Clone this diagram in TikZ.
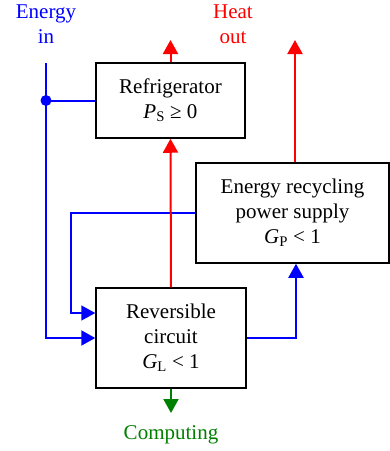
\documentclass[tikz,border=0pt]{standalone}
\usepackage{fontspec}
\setmainfont{Liberation Serif}
\usetikzlibrary{calc,arrows.meta}
\definecolor{flowblue}{RGB}{0,0,255}
\definecolor{flowred}{RGB}{255,0,0}
\definecolor{flowgreen}{RGB}{0,128,0}

\begin{document}
\begin{tikzpicture}[x=1pt,y=-1pt,>={Triangle[width=15pt,length=14pt]},
  box/.style={draw,line width=1.5pt,align=center,inner sep=0pt,font=\fontsize{21}{25}\selectfont},
  lbl/.style={align=center,inner sep=0pt,font=\fontsize{21}{25}\selectfont},
  energy/.style={flowblue,line width=2pt},
  heat/.style={flowred,line width=2pt}]
  \useasboundingbox (0,0) rectangle (390,451);
  % Blocks
  \node[box,minimum width=149pt,minimum height=75pt] (fridge) at (170.5,100.5) {Refrigerator\\\textit{P}\textsubscript{S} ≥ 0};
  \node[box,minimum width=193pt,minimum height=100pt] (erps) at (292.5,213) {Energy recycling\\power supply\\\textit{G}\textsubscript{P} < 1};
  \node[box,minimum width=150pt,minimum height=100pt] (rev) at (171,338) {Reversible\\circuit\\\textit{G}\textsubscript{L} < 1};
  % Labels
  \node[lbl,flowblue] (ein) at (46,24) {Energy\\in};
  \node[lbl,flowred] (hout) at (233,24) {Heat\\out};
  \node[lbl,flowgreen] (comp) at (171,435) {Computing};
  \coordinate (intop) at (46,63);
  \coordinate (split) at (46,100.5);
  \coordinate (fbk) at (71,213);
  \coordinate (heatA) at (170.5,40);
  \coordinate (heatB) at (295,40);
  \coordinate (compend) at (171,413);
  % Energy paths
  \draw[energy,->] (intop) |- (rev.west);
  \draw[energy] (split) -- (fridge.west);
  \fill[flowblue] (split) circle (5.5pt);
  \draw[flowblue,line width=1.5pt,->] (erps.west) -- (fbk) |- ($(rev.west)+(0,-25)$);
  \draw[energy,->] (rev.east) -| ($(erps.south)+(3.5,0)$);
  % Heat paths
  \draw[heat,->] (rev.north) -- (fridge.south);
  \draw[heat,->] (fridge.north) -- (heatA);
  \draw[heat,->] (erps.north -| heatB) -- (heatB);
  % Output
  \draw[flowgreen,line width=2pt,->] (rev.south) -- (compend);
\end{tikzpicture}
\end{document}
